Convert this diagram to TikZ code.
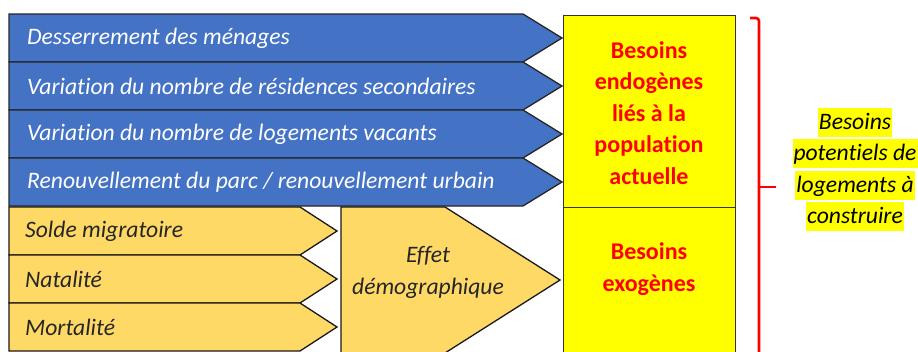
\documentclass[tikz,border=0pt]{standalone}
\usepackage{fontspec}
\setmainfont{Carlito}[Ligatures=NoCommon]
\usetikzlibrary{positioning}
\definecolor{pop_blue}{RGB}{68,114,196}
\definecolor{pop_gold}{RGB}{255,217,102}
\definecolor{pop_yellow}{RGB}{255,255,0}
\definecolor{pop_red}{RGB}{255,0,0}
\tikzstyle{bl}=[fill=pop_blue,draw=black!85,line width=1.3pt,line join=miter]
\tikzstyle{gd}=[fill=pop_gold,draw=black!90,line width=1.3pt,line join=miter]
\tikzstyle{bt}=[anchor=west,inner sep=0pt,text=white,
  font=\fontsize{23.6}{27}\selectfont\itshape]
\tikzstyle{gt}=[anchor=west,inner sep=0pt,text=black!85,
  font=\fontsize{23.6}{27}\selectfont\itshape]
\tikzstyle{rt}=[align=center,inner sep=0pt,text=pop_red,
  font=\fontsize{24}{31.5}\selectfont\bfseries]
\tikzstyle{hl}=[fill=pop_yellow,inner xsep=1pt,inner ysep=0pt,text height=22pt,
  text depth=7pt,font=\fontsize{23.6}{27}\selectfont\itshape]

\begin{document}
\begin{tikzpicture}[x=1pt,y=-1pt]
            \useasboundingbox (0,0) rectangle (918,351);
            \clip (0,0) rectangle (918,351);
            % blue chevrons
            \draw [style=bl] (9,14) -- (523,14) -- (562,38) -- (523,62) -- (9,62) -- cycle;
            \draw [style=bl] (9,62) -- (523,62) -- (562,86) -- (523,110) -- (9,110) -- cycle;
            \draw [style=bl] (9,110) -- (523,110) -- (562,134) -- (523,158) -- (9,158) -- cycle;
            \draw [style=bl] (9,158) -- (523,158) -- (562,182) -- (523,206) -- (9,206) -- cycle;
            \node [style=bt] (desserr) at (27,38) {Desserrement des ménages};
            \node [style=bt] (residsec) at (27,86) {Variation du nombre de résidences secondaires};
            \node [style=bt] (logvac) at (27,134) {Variation du nombre de logements vacants};
            \node [style=bt] (renouv) at (27,182) {Renouvellement du parc / renouvellement urbain};
            % gold chevrons
            \draw [style=gd] (9,207) -- (300,207) -- (337,231) -- (300,255) -- (9,255) -- cycle;
            \draw [style=gd] (9,255) -- (300,255) -- (337,279) -- (300,303) -- (9,303) -- cycle;
            \draw [style=gd] (9,303) -- (300,303) -- (337,327) -- (300,351) -- (9,351) -- cycle;
            \node [style=gt] (solde) at (25,231) {Solde migratoire};
            \node [style=gt] (natal) at (25,279) {Natalité};
            \node [style=gt] (mortal) at (25,327) {Mortalité};
            \draw [style=gd] (341,207) -- (445,207) -- (560,280) -- (445,353) -- (341,353) -- cycle;
            \node [style=gt,anchor=center,align=center,font=\fontsize{23.6}{32}\selectfont\itshape]
              (effet) at (428,272) {Effet\\démographique};
            % yellow boxes
            \draw [fill=pop_yellow,draw=black!80,line width=0.9pt] (563,15) rectangle (735,207);
            \draw [fill=pop_yellow,draw=black!80,line width=0.9pt] (563,207) rectangle (735,365);
            \node [style=rt] (endo) at (649,113)
              {Besoins\\endogènes\\liés à la\\population\\actuelle};
            \node [style=rt] (exo) at (649,269) {Besoins\\exogènes};
            % brace
            \draw [pop_red,line width=2.6pt,rounded corners=3pt]
              (750,18) -- (759,18) -- (759,365);
            \draw [pop_red,line width=2.6pt] (759,187) -- (776,187);
            \node [style=hl] (pot1) at (855,122) {Besoins};
            \node [style=hl] (pot2) at (855,153) {potentiels de};
            \node [style=hl] (pot3) at (855,185) {logements à};
            \node [style=hl] (pot4) at (855,216) {construire};
    \end{tikzpicture}
\end{document}
